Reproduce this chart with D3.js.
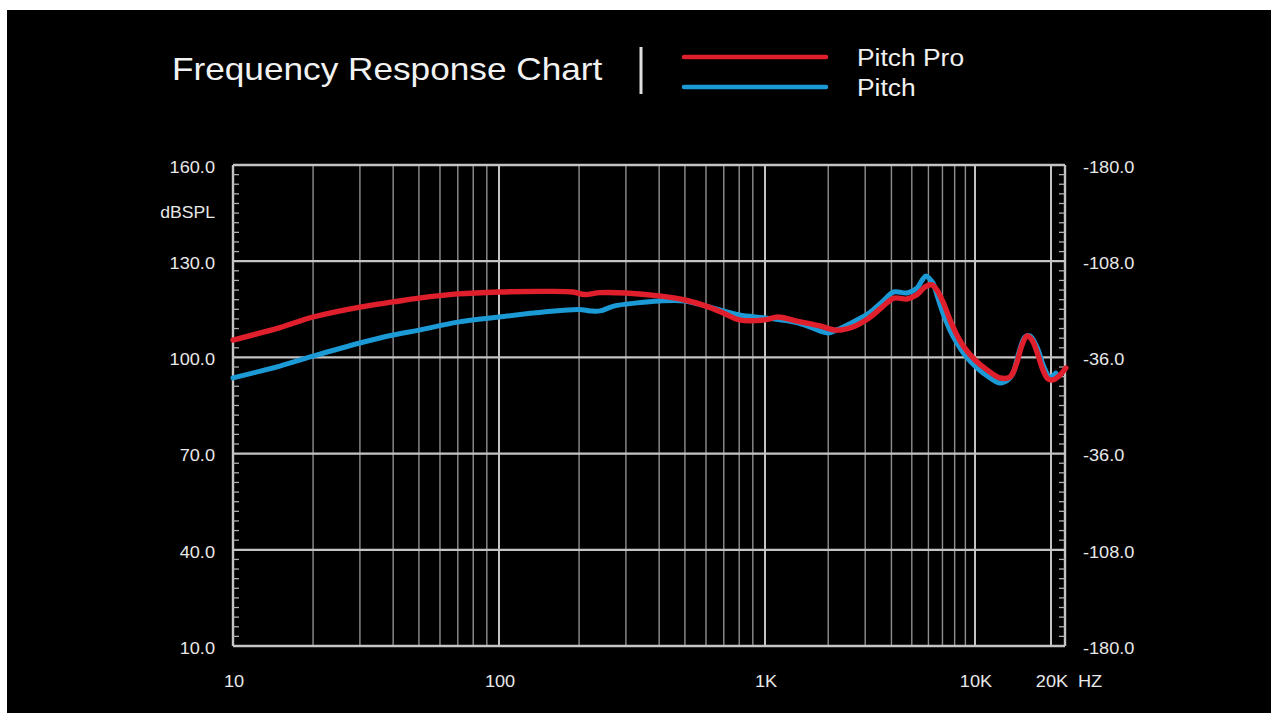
<!DOCTYPE html>
<html><head><meta charset="utf-8">
<script src="https://cdn.jsdelivr.net/npm/d3@7"></script>
<style>
body{margin:0;background:#fff;}
svg{display:block;}
text{font-family:"Liberation Sans",Arial,Helvetica,sans-serif;}
</style>
</head><body>
<svg id="chart" width="1271" height="713"></svg>
<script>
// ---------- data ----------
const seriesNames = ["Pitch Pro", "Pitch"];
const proFreq = [10,15,20,30,40,50,70,100,150,190,210,240,300,400,500,600,700,800,1000,1150,1400,1830,2180,2620,3130,3610,4110,4740,5290,5780,6240,6590,7040,7600,8200,8870,10000,11160,12560,13760,14540,15360,16070,16820,17600,18580,19450,20370,21700,22900];
const proDb   = [105.4,109.3,112.6,115.7,117.3,118.5,119.8,120.4,120.6,120.4,119.6,120.2,120.1,119.2,117.9,116.0,113.8,111.7,111.7,112.6,111.4,109.8,108.5,109.5,112.3,115.7,118.5,118.2,119.5,122.0,122.6,121.0,117.3,111.7,107.0,103.2,99.2,96.1,93.6,93.9,97.6,103.9,106.7,105.4,101.7,96.1,93.3,93.0,94.5,96.7];
const pitchFreq = [10,15,20,30,40,50,70,100,150,200,220,240,270,330,400,500,600,700,800,1000,1300,1550,1830,2000,2180,2620,3130,3610,4110,4740,5290,5600,5840,6100,6310,6660,7040,7600,8200,8870,10180,11470,12560,13510,14150,14940,15780,16500,17600,18760,19800,20900];
const pitchDb   = [93.6,97.3,100.4,104.5,107.0,108.5,111.0,112.6,114.2,114.9,114.5,114.5,116.0,117.0,117.6,117.6,116.0,114.5,113.2,112.3,111.3,110.1,108.2,107.6,108.5,111.0,113.8,117.3,120.4,120.1,121.6,124.1,125.4,124.4,123.2,118.5,113.8,108.5,104.5,101.1,96.7,93.6,92.0,93.0,95.1,101.7,106.4,106.7,103.2,97.0,93.9,95.1];

const yTicks = [10,40,70,100,130,160];
const yTickLabels = ["10.0","40.0","70.0","100.0","130.0","160.0"];
const rightTickLabels = ["-180.0","-108.0","-36.0","-36.0","-108.0","-180.0"];
const xLabelFreqs = [10,100,1000,10000,20000];
const xLabels = ["10","100","1K","10K","20K"];
const decadeFreqs = [100,1000,10000];
const minorFreqs = [20,30,40,50,60,70,80,90,200,300,400,500,600,700,800,900,2000,3000,4000,5000,6000,7000,8000,9000,20000];
const freqBreaks = [10,100,1000,10000,20000];

// ---------- layout ----------
const svg = d3.select("#chart");
svg.append("rect").attr("x",7).attr("y",10).attr("width",1264).attr("height",703).attr("fill","#000");

const pL = 233, pR = 1065, pT = 165, pB = 646;
const x = d3.scaleLog().domain(freqBreaks).range([233,499,765,975,1051]);
const y = d3.scaleLinear().domain([10,160]).range([pB, pT]);

const gridCol = "#c4c4c4";
const g = svg.append("g");

g.selectAll(".vminor").data(minorFreqs).join("line")
  .attr("x1", d=>x(d)).attr("x2", d=>x(d)).attr("y1", pT).attr("y2", pB)
  .attr("stroke", d => d===20000 ? gridCol : "#8f8f8f").attr("stroke-width", d => d===20000 ? 2 : 1.4);
g.selectAll(".vmajor").data(decadeFreqs).join("line")
  .attr("x1", d=>x(d)).attr("x2", d=>x(d)).attr("y1", pT).attr("y2", pB)
  .attr("stroke", gridCol).attr("stroke-width", 2);
g.selectAll(".hgrid").data(yTicks).join("line")
  .attr("x1", pL).attr("x2", pR).attr("y1", d=>y(d)).attr("y2", d=>y(d))
  .attr("stroke", gridCol).attr("stroke-width", d => (d===10||d===160) ? 2.6 : 2.2);
g.append("line").attr("x1",pL).attr("x2",pL).attr("y1",pT).attr("y2",pB).attr("stroke",gridCol).attr("stroke-width",2.4);
g.append("line").attr("x1",pR).attr("x2",pR).attr("y1",pT).attr("y2",pB).attr("stroke",gridCol).attr("stroke-width",2.4);

const minorY = d3.range(13,160,3).filter(v => (v-10)%30 !== 0);
g.selectAll(".lt").data(minorY).join("line")
  .attr("x1", pL).attr("x2", pL+6).attr("y1", d=>y(d)).attr("y2", d=>y(d))
  .attr("stroke", "#b0b0b0").attr("stroke-width", 1.3);
g.selectAll(".rt").data(minorY).join("line")
  .attr("x1", pR-6).attr("x2", pR).attr("y1", d=>y(d)).attr("y2", d=>y(d))
  .attr("stroke", "#b0b0b0").attr("stroke-width", 1.3);

// ---------- curves ----------
const line = d3.line().x(d=>x(d[0])).y(d=>y(d[1])).curve(d3.curveCatmullRom.alpha(0.5));
const pitchData = pitchFreq.map((f,i)=>[f,pitchDb[i]]);
const proData = proFreq.map((f,i)=>[f,proDb[i]]);
const blue = "#1c9ad6", red = "#e01f2d";
svg.append("path").attr("d", line(pitchData)).attr("fill","none").attr("stroke",blue).attr("stroke-width",5).attr("stroke-linejoin","round").attr("stroke-linecap","round");
svg.append("path").attr("d", line(proData)).attr("fill","none").attr("stroke",red).attr("stroke-width",5.4).attr("stroke-linejoin","round").attr("stroke-linecap","round");

// ---------- text ----------
const txtCol = "#e8e8e8";
function label(px, py, str, size, anchor, col) {
  svg.append("text")
    .attr("transform", `translate(${px},${py}) scale(1.1,1)`)
    .attr("text-anchor", anchor).attr("font-size", size).attr("fill", col || txtCol)
    .attr("dominant-baseline", "central")
    .text(str);
}
yTicks.forEach((v,i) => label(215, y(v)+2, yTickLabels[i], 16.5, "end"));
yTicks.forEach((v,i) => label(1083, y(v)+2, rightTickLabels[i], 16.5, "start"));
label(215, 213, "dBSPL", 16, "end");
xLabelFreqs.forEach((f,i) => label(x(f)+1, 681, xLabels[i], 16.5, "middle"));
label(1090, 681, "HZ", 16.5, "middle");

svg.append("text").attr("transform","translate(172,80) scale(1.1,1)")
  .attr("font-size",32).attr("fill","#f2f2f2").text("Frequency Response Chart");
svg.append("rect").attr("x",639.5).attr("y",47).attr("width",3).attr("height",47).attr("fill","#e0e0e0");

const legendCols = [red, blue];
const legendY = [57, 87];
seriesNames.forEach((n,i) => {
  svg.append("line").attr("x1",684).attr("x2",826).attr("y1",legendY[i]).attr("y2",legendY[i])
    .attr("stroke",legendCols[i]).attr("stroke-width",4.5).attr("stroke-linecap","round");
  svg.append("text").attr("transform",`translate(857,${legendY[i]+9}) scale(1.1,1)`)
    .attr("font-size",24).attr("fill","#f0f0f0").text(n);
});
</script>
</body></html>
